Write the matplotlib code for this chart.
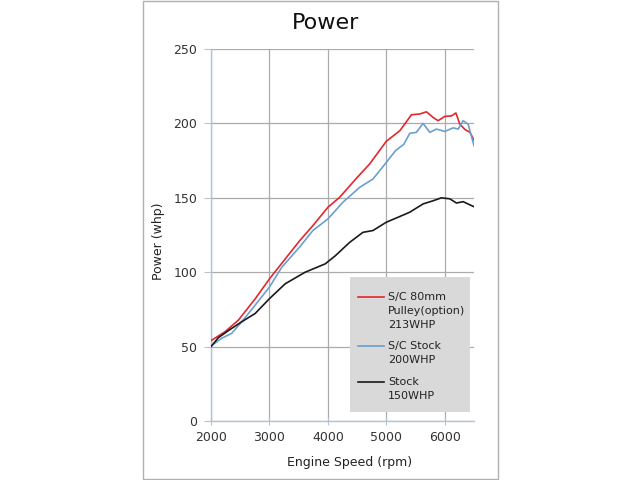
import matplotlib
matplotlib.use("Agg")
import matplotlib.pyplot as plt
from matplotlib.patches import Rectangle

plt.rcParams['font.family'] = ['DejaVu Sans']

rpm_red = [2000, 2240, 2469, 2754, 3000, 3211, 3514, 3743, 4000, 4200, 4486, 4714, 5000, 5229, 5314,
           5429, 5571, 5686, 5800, 5886, 6000, 6114, 6190, 6257, 6343, 6430, 6500]
hp_red = [54, 60, 67.8, 82, 95.5, 106, 121, 131.3, 143.6, 150.3, 163, 172.7, 188, 195, 199.5,
          205.8, 206.3, 207.8, 204, 201.8, 204.7, 205, 207, 199.5, 196, 194, 188.8]

rpm_blue = [2000, 2183, 2354, 2526, 2754, 3000, 3211, 3514, 3743, 4000, 4257, 4543, 4771, 5000, 5157,
            5300, 5400, 5514, 5629, 5743, 5857, 6000, 6143, 6229, 6314, 6400, 6500]
hp_blue = [50.4, 55.6, 58.9, 66.7, 77.8, 90, 103.3, 116.8, 128, 135.8, 147, 157, 162.6, 173.8, 181.7,
           186, 193.3, 194, 200, 194, 196.2, 194.6, 197, 196.2, 201.8, 199.5, 185]

rpm_black = [2000, 2126, 2326, 2526, 2754, 3000, 3269, 3611, 3954, 4126, 4371, 4600, 4771,
             5000, 5229, 5400, 5629, 5800, 5943, 6086, 6200, 6314, 6500]
hp_black = [50, 56, 61.5, 66.7, 72.2, 82.2, 92.2, 100, 105.6, 111, 120, 126.8, 128,
            133.6, 137.4, 140.3, 145.9, 148, 150, 149.3, 146.5, 147.4, 144]

labels = ["S/C 80mm\nPulley(option)\n213WHP", "S/C Stock\n200WHP", "Stock\n150WHP"]
colors = ["#e0282e", "#6a9fcf", "#1a1a1a"]

fig = plt.figure(figsize=(6.4, 4.8), dpi=100)
fig.patches.append(Rectangle((143 / 640, 1 / 480), 355 / 640, 478 / 480, transform=fig.transFigure,
                             fill=False, edgecolor="#b0b0b0", linewidth=1.0))
ax = fig.add_axes([211 / 640, 59 / 480, 263 / 640, 372 / 480])

series = [(rpm_red, hp_red), (rpm_blue, hp_blue), (rpm_black, hp_black)]
for (x, y), c in zip(series, colors):
    ax.plot(x, y, color=c, linewidth=1.2, zorder=3)

ax.set_xlim(2000, 6500)
ax.set_ylim(0, 250)
ax.set_xticks([2000, 3000, 4000, 5000, 6000])
ax.set_yticks([0, 50, 100, 150, 200, 250])
ax.grid(True, color="#ababab", linewidth=0.9, zorder=0)
for s in ["top", "right"]:
    ax.spines[s].set_visible(False)
for s in ["left", "bottom"]:
    ax.spines[s].set_color("#b4c4d6")
    ax.spines[s].set_linewidth(1.0)
ax.tick_params(axis="x", direction="inout", length=6, color="#b4c4d6", labelsize=9,
               labelcolor="#333333", pad=4)
ax.tick_params(axis="y", direction="out", length=5, color="#b4c4d6", labelsize=9,
               labelcolor="#333333", pad=5)
ax.set_xlabel("Engine Speed (rpm)", fontsize=9, color="#222222")
ax.set_ylabel("Power (whp)", fontsize=9, color="#222222")
ax.xaxis.set_label_coords((350 - 211) / 263, (421 - 456) / 372)
ax.yaxis.set_label_coords((165 - 211) / 263, (421 - 241) / 372)
fig.text(326 / 640, 1 - 23 / 480, "Power", ha="center", va="center", fontsize=16, color="#111111")

# legend (manual)
ax.add_patch(Rectangle(((350 - 211) / 263, (421 - 412) / 372), 120 / 263, 135 / 372,
                       transform=ax.transAxes, facecolor="#d9d9d9", edgecolor="none", zorder=4))
leg_y = [297, 346, 382]
for lab, c, py in zip(labels, colors, leg_y):
    yy = (421 - py) / 372
    ax.plot([(358 - 211) / 263, (384 - 211) / 263], [yy, yy], transform=ax.transAxes,
            color=c, linewidth=1.2, zorder=5)
    ax.text((388 - 211) / 263, (421 - py + 5) / 372, lab, transform=ax.transAxes,
            fontsize=8, color="#222222", va="top", ha="left", linespacing=1.5, zorder=5)

fig.savefig("out.png", dpi=100)
